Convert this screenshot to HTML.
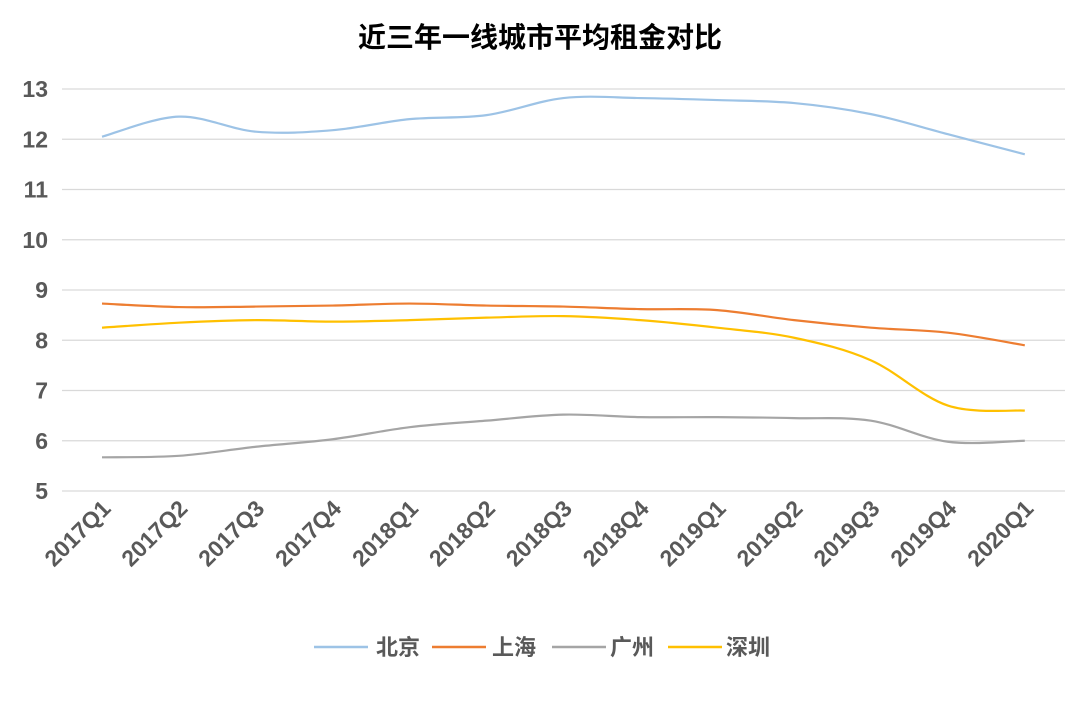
<!DOCTYPE html>
<html><head><meta charset="utf-8"><style>
html,body{margin:0;padding:0;background:#fff;}
svg text{font-family:"Liberation Sans","Noto Sans CJK SC",sans-serif;font-weight:bold;fill:#595959;}
</style></head><body>
<svg id="c" width="1080" height="707" xmlns="http://www.w3.org/2000/svg">
<text x="540" y="47" text-anchor="middle" font-size="28" style="fill:#000">近三年一线城市平均租金对比</text>
<g id="grid" stroke="#d9d9d9" stroke-width="1.3"></g>
<g id="ylab" font-size="23"></g>
<g id="xlab" font-size="23"></g>
<g id="series" fill="none" stroke-width="2.2"></g>
<g font-size="22">
<line x1="314" y1="647" x2="368" y2="647" stroke="#9DC3E6" stroke-width="2.5"/><text x="376" y="655">北京</text>
<line x1="432" y1="647" x2="486" y2="647" stroke="#ED7D31" stroke-width="2.5"/><text x="492" y="655">上海</text>
<line x1="552" y1="647" x2="606" y2="647" stroke="#A5A5A5" stroke-width="2.5"/><text x="610" y="655">广州</text>
<line x1="668" y1="647" x2="722" y2="647" stroke="#FFC000" stroke-width="2.5"/><text x="726" y="655">深圳</text>
</g>
</svg>
<script>
var ns="http://www.w3.org/2000/svg";
function Y(v){return 491-(v-5)*50.25;}
function X(i){return 102+i*76.9;}
var g=document.getElementById('grid'),yl=document.getElementById('ylab'),xl=document.getElementById('xlab'),s=document.getElementById('series');
for(var v=5;v<=13;v++){var l=document.createElementNS(ns,'line');l.setAttribute('x1',62);l.setAttribute('x2',1065);l.setAttribute('y1',Y(v));l.setAttribute('y2',Y(v));g.appendChild(l);
var t=document.createElementNS(ns,'text');t.setAttribute('x',48);t.setAttribute('y',Y(v)+8);t.setAttribute('text-anchor','end');t.textContent=v;yl.appendChild(t);}
var labs=['2017Q1','2017Q2','2017Q3','2017Q4','2018Q1','2018Q2','2018Q3','2018Q4','2019Q1','2019Q2','2019Q3','2019Q4','2020Q1'];
labs.forEach(function(L,i){var t=document.createElementNS(ns,'text');var x=X(i)+10,y=510;t.setAttribute('x',x);t.setAttribute('y',y);t.setAttribute('text-anchor','end');t.setAttribute('transform','rotate(-45 '+x+' '+y+')');t.textContent=L;xl.appendChild(t);});
var data=[['#9DC3E6',[12.05,12.45,12.15,12.18,12.4,12.48,12.82,12.82,12.78,12.72,12.5,12.1,11.7]],
['#ED7D31',[8.73,8.66,8.67,8.69,8.73,8.69,8.67,8.62,8.6,8.4,8.25,8.15,7.9]],
['#A5A5A5',[5.67,5.7,5.88,6.03,6.27,6.4,6.52,6.47,6.47,6.45,6.4,5.98,6.0]],
['#FFC000',[8.25,8.35,8.4,8.37,8.4,8.45,8.48,8.4,8.25,8.05,7.6,6.7,6.6]]];
data.forEach(function(d){var p=d[1].map(function(v,i){return [X(i),Y(v)];});var str='M'+p[0][0]+','+p[0][1];
for(var i=0;i<p.length-1;i++){var p0=p[Math.max(i-1,0)],p1=p[i],p2=p[i+1],p3=p[Math.min(i+2,p.length-1)];
var c1=[p1[0]+(p2[0]-p0[0])/6,p1[1]+(p2[1]-p0[1])/6],c2=[p2[0]-(p3[0]-p1[0])/6,p2[1]-(p3[1]-p1[1])/6];
str+=' C'+c1+' '+c2+' '+p2;}
var e=document.createElementNS(ns,'path');e.setAttribute('d',str);e.setAttribute('stroke',d[0]);s.appendChild(e);});
</script>
</body></html>
